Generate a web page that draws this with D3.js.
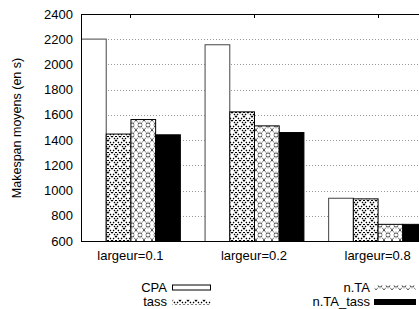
<!DOCTYPE html>
<html>
<head>
<meta charset="utf-8">
<script src="https://cdn.jsdelivr.net/npm/d3@7"></script>
<style>
  body { margin: 0; background: #fff; }
  svg { display: block; }
  text { font-family: "Liberation Sans", Arial, sans-serif; font-size: 13px; fill: #000; }
</style>
</head>
<body>
<svg id="chart" width="419" height="309"></svg>
<script>
const groups = ['largeur=0.1', 'largeur=0.2', 'largeur=0.8']
const series = ['CPA', 'tass', 'n.TA', 'n.TA_tass']
const cpa = [2205, 2160, 943]
const tass = [1452, 1628, 938]
const nTA = [1567, 1517, 736]
const nTAtass = [1446, 1464, 736]
const yTicks = [600, 800, 1000, 1200, 1400, 1600, 1800, 2000, 2200, 2400]

const values = [cpa, tass, nTA, nTAtass]
const fills = ['#fff', 'url(#pTass)', 'url(#pNta)', '#000']

const svg = d3.select('#chart')
const mLeft = 81, mTop = 14, mBottom = 241, mRight = 427

const x = d3.scaleLinear().domain([-0.4, 2.4]).range([mLeft, mRight])
const y = d3.scaleLinear().domain([600, 2400]).range([mBottom, mTop])
const bw = (x(1) - x(0)) / 5

// patterns
const defs = svg.append('defs')
let p = defs.append('pattern').attr('id', 'pTass')
  .attr('patternUnits', 'userSpaceOnUse').attr('width', 8).attr('height', 8)
p.append('rect').attr('width', 8).attr('height', 8).attr('fill', '#fff')
p.append('path').attr('d', 'M0,0L8,8M8,0L0,8')
  .attr('stroke', '#000').attr('stroke-width', 1.3).attr('stroke-dasharray', '1.4,1.4')
p.append('rect').attr('x', 3).attr('y', 0).attr('width', 2).attr('height', 1).attr('fill', '#000')

p = defs.append('pattern').attr('id', 'pNta')
  .attr('patternUnits', 'userSpaceOnUse').attr('width', 8).attr('height', 10)
p.append('rect').attr('width', 8).attr('height', 10).attr('fill', '#fff')
p.append('path').attr('d', 'M4,1L7,5L4,9L1,5Z').attr('fill', '#bbb')
p.append('path').attr('d', 'M0,0L8,10M8,0L0,10')
  .attr('stroke', '#000').attr('stroke-width', 1).attr('stroke-dasharray', '1,1')
p.append('rect').attr('x', 3).attr('y', 4).attr('width', 2).attr('height', 2).attr('fill', '#fff')

// grid
svg.append('g').selectAll('line')
  .data(yTicks.filter(d => d > 600 && d < 2400))
  .join('line')
  .attr('x1', mLeft).attr('x2', mRight)
  .attr('y1', d => Math.round(y(d)) + 0.5).attr('y2', d => Math.round(y(d)) + 0.5)
  .attr('stroke', '#999').attr('stroke-width', 1).attr('stroke-dasharray', '1,2')

// bars
const bars = svg.append('g')
series.forEach((s, si) => {
  bars.selectAll(null)
    .data(values[si])
    .join('rect')
    .attr('x', (d, i) => x(i) + (si - 2) * bw + 0.5)
    .attr('y', d => y(d) + 0.5)
    .attr('width', bw)
    .attr('height', d => mBottom - y(d))
    .attr('fill', fills[si])
    .attr('stroke', si === 0 ? '#444' : '#000')
    .attr('stroke-width', 1)
})

// frame
svg.append('rect')
  .attr('x', mLeft + 0.5).attr('y', mTop + 0.5)
  .attr('width', mRight - mLeft).attr('height', mBottom - mTop)
  .attr('fill', 'none').attr('stroke', '#000').attr('stroke-width', 1)

// top ticks
svg.append('g').selectAll('line')
  .data(groups.map((g, i) => i))
  .join('line')
  .attr('x1', d => Math.round(x(d)) + 0.5).attr('x2', d => Math.round(x(d)) + 0.5)
  .attr('y1', mTop).attr('y2', mTop + 4)
  .attr('stroke', '#000')

// y tick labels
svg.append('g').selectAll('text')
  .data(yTicks)
  .join('text')
  .attr('x', 73).attr('y', d => y(d) + 4.5)
  .attr('text-anchor', 'end')
  .text(d => d)

// x labels
svg.append('g').selectAll('text')
  .data(groups)
  .join('text')
  .attr('x', (d, i) => x(i)).attr('y', 260)
  .attr('text-anchor', 'middle')
  .text(d => d)

// y label
svg.append('text')
  .attr('transform', 'translate(21,128) rotate(-90)')
  .attr('text-anchor', 'middle')
  .style('font-size', '12.5px')
  .text('Makespan moyens (en s)')

// legend
const legend = [
  { tx: 167, sx: 172, sw: 38, y: 287.5 },
  { tx: 167, sx: 172, sw: 38, y: 302 },
  { tx: 370, sx: 374, sw: 41, y: 287.5 },
  { tx: 370, sx: 374, sw: 41, y: 302 }
]
series.forEach((s, si) => {
  const l = legend[si]
  svg.append('text').attr('x', l.tx).attr('y', l.y + 4)
    .attr('text-anchor', 'end').text(s)
  svg.append('rect')
    .attr('x', l.sx + 0.5).attr('y', l.y - 2.5)
    .attr('width', l.sw).attr('height', 5)
    .attr('fill', fills[si])
    .attr('stroke', si === 0 ? '#000' : (si === 3 ? '#000' : 'none'))
})
</script>
</body>
</html>
